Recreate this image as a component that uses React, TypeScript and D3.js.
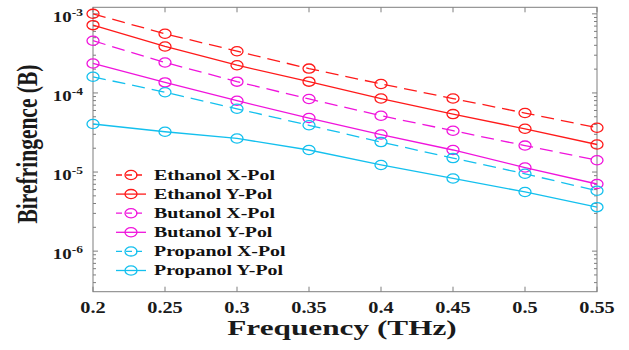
import React from "react";
import * as d3 from "d3";

const freqs = [0.2, 0.25, 0.3, 0.35, 0.4, 0.45, 0.5, 0.55];
const ethanolX = [1.0e-3, 5.6e-4, 3.37e-4, 2.03e-4, 1.3e-4, 8.5e-5, 5.57e-5, 3.63e-5];
const ethanolY = [7.2e-4, 3.87e-4, 2.24e-4, 1.39e-4, 8.5e-5, 5.4e-5, 3.52e-5, 2.23e-5];
const butanolX = [4.57e-4, 2.43e-4, 1.39e-4, 8.4e-5, 5.15e-5, 3.33e-5, 2.16e-5, 1.41e-5];
const butanolY = [2.36e-4, 1.36e-4, 7.97e-5, 4.82e-5, 2.98e-5, 1.9e-5, 1.14e-5, 7.06e-6];
const propanolX = [1.6e-4, 1.02e-4, 6.3e-5, 3.9e-5, 2.39e-5, 1.5e-5, 9.5e-6, 5.8e-6];
const propanolY = [4.05e-5, 3.23e-5, 2.66e-5, 1.9e-5, 1.23e-5, 8.3e-6, 5.6e-6, 3.6e-6];
const xTicks = [0.2, 0.25, 0.3, 0.35, 0.4, 0.45, 0.5, 0.55];
const yTickExps = [-3, -4, -5, -6];

const series = [
  { name: "Ethanol X-Pol", values: ethanolX, color: "#ff1a1a", dashed: true },
  { name: "Ethanol Y-Pol", values: ethanolY, color: "#ff1a1a", dashed: false },
  { name: "Butanol X-Pol", values: butanolX, color: "#f014dc", dashed: true },
  { name: "Butanol Y-Pol", values: butanolY, color: "#f014dc", dashed: false },
  { name: "Propanol X-Pol", values: propanolX, color: "#14c0ee", dashed: true },
  { name: "Propanol Y-Pol", values: propanolY, color: "#14c0ee", dashed: false },
];

const W = 629;
const H = 350;
const left = 93, right = 597, top = 7.3, bottom = 291.7;
const SX = 1.35; // the picture is stretched sideways
const font = "'Liberation Serif', 'Times New Roman', serif";
const axisColor = "#7f7f7f";

export default function App() {
  const x = d3.scaleLinear().domain([0.2, 0.55]).range([left, right]);
  const y = d3.scaleLog().domain([3.07e-7, 1.21e-3]).range([bottom, top]);

  const line = d3.line<number>()
    .x((_, i) => x(freqs[i]))
    .y(d => y(d));

  const minor: number[] = [];
  for (let e = -7; e <= -3; e++) {
    for (let k = 2; k <= 9; k++) {
      const v = k * Math.pow(10, e);
      if (v > 3.07e-7 && v < 1.21e-3) minor.push(v);
    }
  }

  return (
    <svg width={W} height={H} style={{ position: "absolute", left: 0, top: 0, background: "#fff" }}>
      {/* frame */}
      <rect x={left} y={top} width={right - left} height={bottom - top} fill="none" stroke={axisColor} strokeWidth={1} />

      {/* x ticks top + bottom */}
      {xTicks.map(t => (
        <g key={"xt" + t}>
          <line x1={x(t)} x2={x(t)} y1={bottom} y2={bottom - 5} stroke={axisColor} />
          <line x1={x(t)} x2={x(t)} y1={top} y2={top + 5} stroke={axisColor} />
          <text transform={`translate(${x(t)},313) scale(1.27,1)`} textAnchor="middle"
            fontFamily={font} fontWeight="bold" fontSize={16} fill="#1a1a1a">{t}</text>
        </g>
      ))}

      {/* y ticks */}
      {yTickExps.map(e => {
        const yy = y(Math.pow(10, e));
        return (
          <g key={"yt" + e}>
            <line x1={left} x2={left + 5} y1={yy} y2={yy} stroke={axisColor} />
            <line x1={right} x2={right - 5} y1={yy} y2={yy} stroke={axisColor} />
            <text transform={`translate(83,${yy + 8}) scale(${SX},1)`} textAnchor="end"
              fontFamily={font} fontWeight="bold" fontSize={14} fill="#1a1a1a">
              10<tspan fontSize={10} dy={-6}>{e}</tspan>
            </text>
          </g>
        );
      })}
      {minor.map(v => (
        <g key={"m" + v}>
          <line x1={left} x2={left + 3} y1={y(v)} y2={y(v)} stroke={axisColor} />
          <line x1={right} x2={right - 3} y1={y(v)} y2={y(v)} stroke={axisColor} />
        </g>
      ))}

      {/* series */}
      {series.map(s => (
        <g key={s.name}>
          <path d={line(s.values) || ""} fill="none" stroke={s.color} strokeWidth={1.3}
            strokeDasharray={s.dashed ? "13,7" : undefined} />
          {s.values.map((v, i) => (
            <ellipse key={i} cx={x(freqs[i])} cy={y(v)} rx={6} ry={4.6}
              fill="none" stroke={s.color} strokeWidth={1.3} />
          ))}
        </g>
      ))}

      {/* legend */}
      {series.map((s, i) => {
        const ly = 175 + i * 19.1;
        return (
          <g key={"lg" + s.name}>
            <line x1={116} x2={146} y1={ly} y2={ly} stroke={s.color} strokeWidth={1.3}
              strokeDasharray={s.dashed ? "6,4" : undefined} />
            <ellipse cx={131} cy={ly} rx={6} ry={4.6} fill="none" stroke={s.color} strokeWidth={1.3} />
            <text transform={`translate(154,${ly + 4.8}) scale(1.42,1)`}
              fontFamily={font} fontWeight="bold" fontSize={14} fill="#111">{s.name}</text>
          </g>
        );
      })}

      {/* axis labels */}
      <text transform={`translate(342,335) scale(1.49,1)`} textAnchor="middle"
        fontFamily={font} fontWeight="bold" fontSize={21} fill="#1a1a1a">Frequency (THz)</text>
      <text transform={`translate(37,144) scale(${SX},1) rotate(-90)`} textAnchor="middle"
        fontFamily={font} fontWeight="bold" fontSize={21.5} fill="#1a1a1a">Birefringence (B)</text>
    </svg>
  );
}
